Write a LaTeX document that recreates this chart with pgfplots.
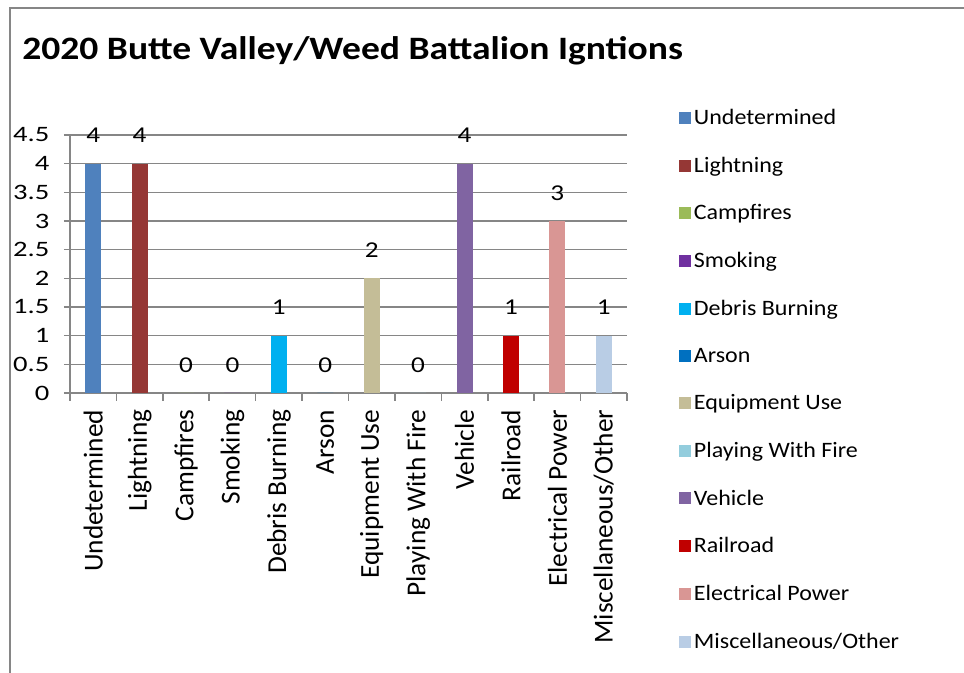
\documentclass[border=0pt]{standalone}
\usepackage{pgfplots}
\pgfplotsset{compat=1.18}
\usepackage{fontspec}
\setmainfont{Carlito}
\newfontfamily\titlefont{Carlito}[FakeStretch=1.15]
\newfontfamily\ytickfont{Carlito}[FakeStretch=1.3]
\newfontfamily\labelfont{Carlito}[FakeStretch=1.2]
\newfontfamily\legfont{Carlito}[FakeStretch=1.09]
\definecolor{cUnd}{HTML}{4F81BD}
\definecolor{cLig}{HTML}{953735}
\definecolor{cCamp}{HTML}{9BBB59}
\definecolor{cSmok}{HTML}{7030A0}
\definecolor{cDeb}{HTML}{00B0F0}
\definecolor{cArs}{HTML}{0070C0}
\definecolor{cEqu}{HTML}{C4BD97}
\definecolor{cPlay}{HTML}{93CDDD}
\definecolor{cVeh}{HTML}{8064A2}
\definecolor{cRail}{HTML}{C00000}
\definecolor{cElec}{HTML}{D99694}
\definecolor{cMisc}{HTML}{B9CDE5}
\definecolor{gridgray}{HTML}{868686}
\pgfplotsset{
  mybar/.style={fill=#1, draw=none, bar shift=0pt,
    legend image code/.code={\path[fill=#1] (0pt,-4.5pt) rectangle (9pt,4.5pt);}},
}
\begin{document}
\begin{tikzpicture}
\path[use as bounding box] (0pt,0pt) rectangle (723pt,504.75pt);
\draw[gridgray, line width=1.2pt] (7.5pt,0pt) -- (7.5pt,498.75pt) -- (723pt,498.75pt);
\node[anchor=base west, inner sep=0pt, font=\titlefont\fontsize{24.5}{28}\selectfont\bfseries]
  at (16.5pt,459.75pt) {2020 Butte Valley/Weed Battalion Igntions};
\begin{axis}[
  at={(52.5pt,210pt)}, anchor=south west,
  scale only axis, width=417.75pt, height=193.5pt,
  ybar, bar width=12pt, enlargelimits=false,
  xmin=-0.5, xmax=11.5, ymin=0, ymax=4.5,
  ytick={0,0.5,...,4.5},
  xtick={0,...,11},
  xticklabels={Undetermined,Lightning,Campfires,Smoking,Debris Burning,Arson,Equipment Use,Playing With Fire,Vehicle,Railroad,Electrical Power,Miscellaneous/Other},
  minor xtick={-0.5,0.5,...,11.5},
  axis x line*=bottom, axis y line*=left,
  axis line style={-, gridgray, line width=1.2pt},
  ymajorgrids, major grid style={gridgray, line width=1.2pt},
  tick align=outside,
  major x tick style={draw=none},
  major tick length=4.5pt, minor tick length=6pt,
  tick style={gridgray, line width=1.2pt},
  /pgf/number format/assume math mode=true,
  yticklabel style={font=\ytickfont\fontsize{16.5}{18}\selectfont, xshift=-7.5pt},
  xticklabel style={font=\fontsize{20.5}{22}\selectfont, rotate=90, anchor=east, xshift=-4.5pt},
  nodes near coords,
  every node near coord/.append style={anchor=center, yshift=21pt, font=\labelfont\fontsize{17}{18}\selectfont},
  legend style={at={(axis description cs:1,1)}, anchor=north west, xshift=36pt, yshift=23.5pt,
    draw=none, fill=none, row sep=18.85pt, font=\legfont\fontsize{16.5}{18}\selectfont},
  legend cell align=left,
]
\addplot[mybar=cUnd] coordinates {(0,4)};
\addlegendentry{Undetermined}
\addplot[mybar=cLig] coordinates {(1,4)};
\addlegendentry{Lightning}
\addplot[mybar=cCamp] coordinates {(2,0)};
\addlegendentry{Campfires}
\addplot[mybar=cSmok] coordinates {(3,0)};
\addlegendentry{Smoking}
\addplot[mybar=cDeb] coordinates {(4,1)};
\addlegendentry{Debris Burning}
\addplot[mybar=cArs] coordinates {(5,0)};
\addlegendentry{Arson}
\addplot[mybar=cEqu] coordinates {(6,2)};
\addlegendentry{Equipment Use}
\addplot[mybar=cPlay] coordinates {(7,0)};
\addlegendentry{Playing With Fire}
\addplot[mybar=cVeh] coordinates {(8,4)};
\addlegendentry{Vehicle}
\addplot[mybar=cRail] coordinates {(9,1)};
\addlegendentry{Railroad}
\addplot[mybar=cElec] coordinates {(10,3)};
\addlegendentry{Electrical Power}
\addplot[mybar=cMisc] coordinates {(11,1)};
\addlegendentry{Miscellaneous/Other}
\end{axis}
\end{tikzpicture}
\end{document}
